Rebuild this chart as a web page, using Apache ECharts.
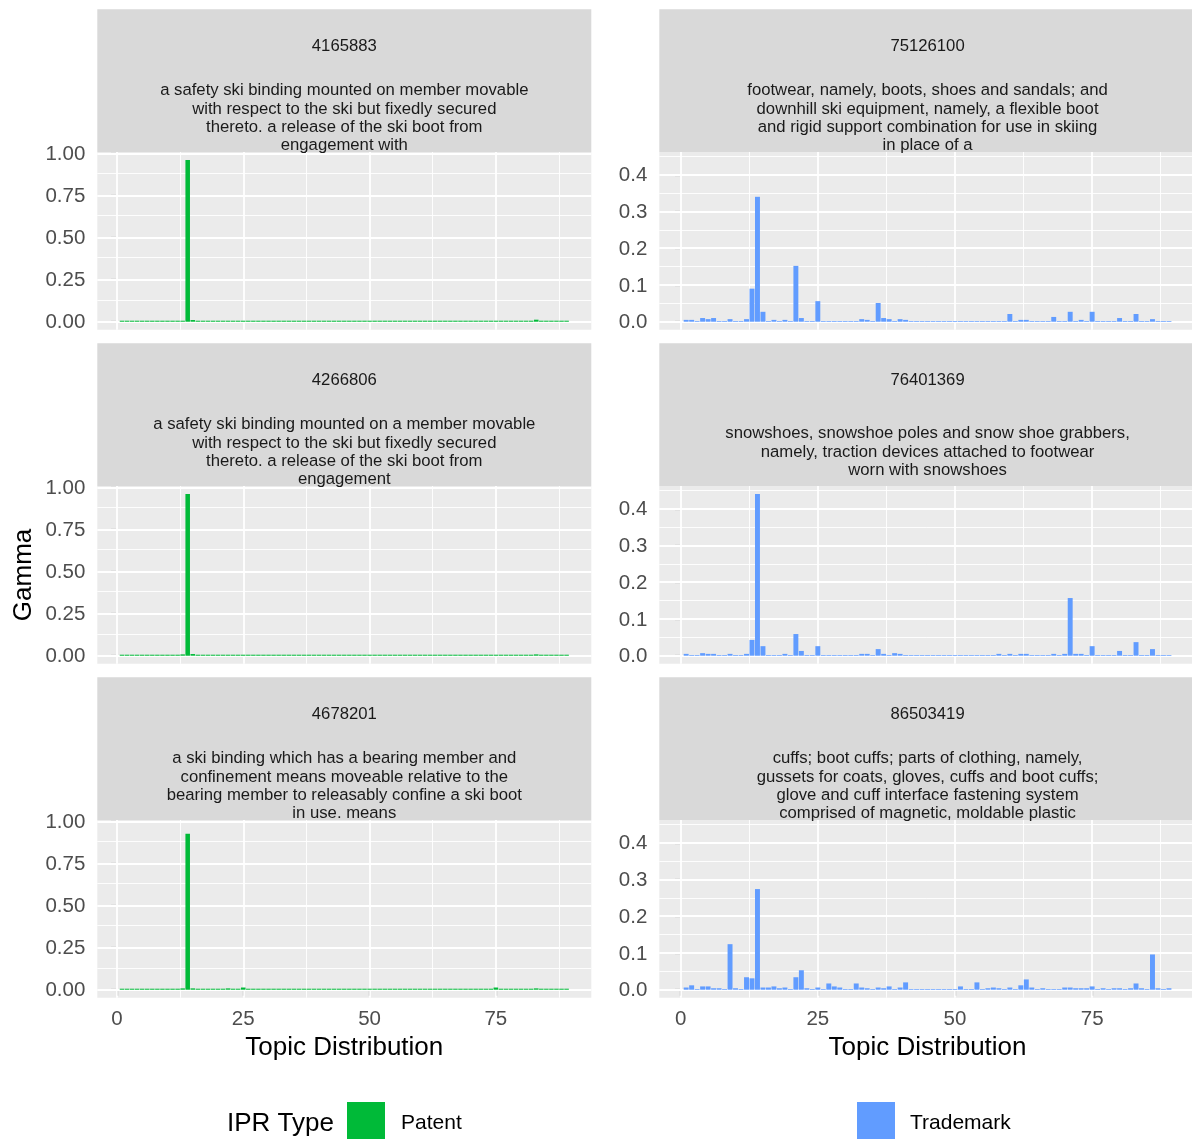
<!DOCTYPE html>
<html><head><meta charset="utf-8">
<script src="https://cdn.jsdelivr.net/npm/echarts@6/dist/echarts.min.js"></script>
<style>html,body{margin:0;padding:0;background:#fff}#chart{width:1192px;height:1139px}</style>
</head><body><div id="chart"></div>
<script>
// ---------------- DATA ----------------
const topics = Array.from({length: 89}, (_, i) => i + 1);
const xTicks = [0, 25, 50, 75];
const patentYTicks = [0, 0.25, 0.5, 0.75, 1.0];
const trademarkYTicks = [0, 0.1, 0.2, 0.3, 0.4];

const patentIds = ['4165883', '4266806', '4678201'];
const trademarkIds = ['75126100', '76401369', '86503419'];
const patentDescs = [
  'a safety ski binding mounted on member movable\nwith respect to the ski but fixedly secured\nthereto. a release of the ski boot from\nengagement with',
  'a safety ski binding mounted on a member movable\nwith respect to the ski but fixedly secured\nthereto. a release of the ski boot from\nengagement',
  'a ski binding which has a bearing member and\nconfinement means moveable relative to the\nbearing member to releasably confine a ski boot\nin use. means'
];
const trademarkDescs = [
  'footwear, namely, boots, shoes and sandals; and\ndownhill ski equipment, namely, a flexible boot\nand rigid support combination for use in skiing\nin place of a',
  'snowshoes, snowshoe poles and snow shoe grabbers,\nnamely, traction devices attached to footwear\nworn with snowshoes',
  'cuffs; boot cuffs; parts of clothing, namely,\ngussets for coats, gloves, cuffs and boot cuffs;\nglove and cuff interface fastening system\ncomprised of magnetic, moldable plastic'
];

const patentGamma1 = [
  0.006,0.006,0.006,0.006,0.006,0.006,0.006,0.006,0.006,0.006,
  0.006,0.006,0.006,0.960,0.010,0.006,0.006,0.006,0.006,0.006,
  0.006,0.006,0.006,0.006,0.006,0.006,0.006,0.006,0.006,0.006,
  0.006,0.006,0.006,0.006,0.006,0.006,0.006,0.006,0.006,0.006,
  0.006,0.006,0.006,0.006,0.006,0.006,0.006,0.006,0.006,0.006,
  0.006,0.006,0.006,0.006,0.006,0.006,0.006,0.006,0.006,0.006,
  0.006,0.006,0.006,0.006,0.006,0.006,0.006,0.006,0.006,0.006,
  0.006,0.006,0.006,0.006,0.006,0.006,0.006,0.006,0.006,0.006,
  0.006,0.006,0.012,0.006,0.006,0.006,0.006,0.006,0.006
];
const patentGamma2 = [
  0.006,0.006,0.006,0.006,0.006,0.006,0.006,0.006,0.006,0.006,
  0.006,0.006,0.008,0.960,0.010,0.006,0.006,0.006,0.006,0.006,
  0.006,0.006,0.006,0.006,0.006,0.006,0.006,0.006,0.006,0.006,
  0.006,0.006,0.006,0.006,0.006,0.006,0.006,0.006,0.006,0.006,
  0.006,0.006,0.006,0.006,0.006,0.006,0.006,0.006,0.006,0.006,
  0.006,0.006,0.006,0.006,0.006,0.006,0.006,0.006,0.006,0.006,
  0.006,0.006,0.006,0.006,0.006,0.006,0.006,0.006,0.006,0.006,
  0.006,0.006,0.006,0.006,0.006,0.006,0.006,0.006,0.006,0.006,
  0.006,0.006,0.008,0.006,0.006,0.006,0.006,0.006,0.006
];
const patentGamma3 = [
  0.006,0.006,0.006,0.006,0.006,0.006,0.006,0.006,0.006,0.006,
  0.006,0.006,0.008,0.927,0.008,0.006,0.006,0.006,0.006,0.006,
  0.006,0.008,0.006,0.006,0.013,0.006,0.006,0.006,0.006,0.006,
  0.006,0.006,0.006,0.006,0.006,0.006,0.006,0.006,0.006,0.006,
  0.006,0.006,0.006,0.006,0.006,0.006,0.006,0.006,0.006,0.006,
  0.006,0.006,0.006,0.006,0.006,0.006,0.006,0.006,0.006,0.006,
  0.006,0.006,0.006,0.006,0.006,0.006,0.006,0.006,0.006,0.006,
  0.006,0.006,0.006,0.006,0.013,0.006,0.006,0.006,0.006,0.006,
  0.006,0.006,0.008,0.006,0.006,0.006,0.006,0.006,0.006
];
const trademarkGamma1 = [
  0.005,0.005,0.002,0.010,0.007,0.010,0.002,0.002,0.007,0.002,
  0.002,0.007,0.090,0.340,0.027,0.002,0.005,0.002,0.005,0.002,
  0.152,0.010,0.002,0.002,0.056,0.002,0.002,0.002,0.002,0.002,
  0.002,0.002,0.007,0.005,0.002,0.051,0.010,0.007,0.002,0.007,
  0.005,0.002,0.002,0.002,0.002,0.002,0.002,0.002,0.002,0.002,
  0.002,0.002,0.002,0.002,0.002,0.002,0.002,0.002,0.002,0.021,
  0.002,0.005,0.005,0.002,0.002,0.002,0.002,0.013,0.002,0.002,
  0.027,0.002,0.005,0.002,0.027,0.002,0.002,0.002,0.002,0.010,
  0.002,0.002,0.021,0.002,0.002,0.007,0.002,0.002,0.002
];
const trademarkGamma2 = [
  0.005,0.002,0.002,0.007,0.005,0.005,0.002,0.002,0.005,0.002,
  0.002,0.005,0.043,0.440,0.026,0.002,0.002,0.002,0.005,0.002,
  0.059,0.013,0.002,0.002,0.026,0.002,0.002,0.002,0.002,0.002,
  0.002,0.002,0.005,0.005,0.002,0.018,0.005,0.002,0.007,0.005,
  0.002,0.002,0.002,0.002,0.002,0.002,0.002,0.002,0.002,0.002,
  0.002,0.002,0.002,0.002,0.002,0.002,0.002,0.005,0.002,0.005,
  0.002,0.005,0.005,0.002,0.002,0.002,0.002,0.005,0.002,0.005,
  0.157,0.005,0.005,0.002,0.026,0.002,0.002,0.002,0.002,0.013,
  0.002,0.002,0.037,0.002,0.002,0.018,0.002,0.002,0.002
];
const trademarkGamma3 = [
  0.006,0.012,0.002,0.009,0.009,0.004,0.004,0.002,0.124,0.004,
  0.002,0.034,0.031,0.274,0.006,0.006,0.009,0.004,0.006,0.002,
  0.034,0.053,0.004,0.002,0.006,0.002,0.017,0.009,0.006,0.002,
  0.002,0.017,0.006,0.004,0.002,0.006,0.004,0.009,0.002,0.006,
  0.020,0.002,0.002,0.002,0.002,0.002,0.002,0.002,0.002,0.002,
  0.009,0.002,0.002,0.020,0.002,0.004,0.006,0.004,0.002,0.006,
  0.002,0.012,0.028,0.006,0.002,0.004,0.002,0.002,0.002,0.006,
  0.006,0.004,0.004,0.004,0.009,0.002,0.004,0.002,0.004,0.004,
  0.002,0.004,0.017,0.004,0.002,0.096,0.004,0.002,0.004
];

// ---------------- LAYOUT / STYLE ----------------
const FONT = '"Liberation Sans", Arial, Helvetica, sans-serif';
const COLORS = {Patent: '#00BA38', Trademark: '#619CFF'};
const cols = [{left: 97.3, width: 494}, {left: 659.3, width: 536.5}];
const rowTop = [152, 486, 820];
const panelH = 177.8;
const stripH = 142.7;
const xRange = [-3.895, 93.895];
const yRanges = [[-0.048, 1.008], [-0.022, 0.462]];
const yTickSets = [patentYTicks, trademarkYTicks];

const panels = [
  {col: 0, row: 0, name: 'Patent', id: patentIds[0], desc: patentDescs[0], values: patentGamma1},
  {col: 0, row: 1, name: 'Patent', id: patentIds[1], desc: patentDescs[1], values: patentGamma2},
  {col: 0, row: 2, name: 'Patent', id: patentIds[2], desc: patentDescs[2], values: patentGamma3},
  {col: 1, row: 0, name: 'Trademark', id: trademarkIds[0], desc: trademarkDescs[0], values: trademarkGamma1},
  {col: 1, row: 1, name: 'Trademark', id: trademarkIds[1], desc: trademarkDescs[1], values: trademarkGamma2},
  {col: 1, row: 2, name: 'Trademark', id: trademarkIds[2], desc: trademarkDescs[2], values: trademarkGamma3}
];

function mids(arr, lo, hi) {
  const out = [];
  const step = arr[1] - arr[0];
  for (let i = -1; i < arr.length; i++) {
    const v = (i < 0 ? arr[0] - step : arr[i]) + step / 2;
    if (v > lo && v < hi) out.push(v);
  }
  return out;
}

const grids = [], xAxes = [], yAxes = [], series = [], graphics = [];
panels.forEach((p, i) => {
  const c = cols[p.col];
  const top = rowTop[p.row];
  const yr = yRanges[p.col];
  const yt = yTickSets[p.col];
  const bottomRow = p.row === 2;
  grids.push({left: c.left, top: top, width: c.width, height: panelH, show: true,
    backgroundColor: '#EBEBEB', borderWidth: 0, containLabel: false, outerBoundsMode: 'none'});
  xAxes.push({
    type: 'value', gridIndex: i, min: xRange[0], max: xRange[1],
    axisLine: {show: false}, splitLine: {show: false},
    axisTick: {show: bottomRow, customValues: xTicks, length: 6, lineStyle: {color: '#333333', width: 1.1}},
    axisLabel: {show: bottomRow, customValues: xTicks, margin: 11.5, fontSize: 20.5, color: '#4D4D4D', fontFamily: FONT},
    name: bottomRow ? 'Topic Distribution' : '', nameLocation: 'middle', nameGap: 37,
    nameTextStyle: {fontSize: 26, color: '#000000', fontFamily: FONT}
  });
  yAxes.push({
    type: 'value', gridIndex: i, min: yr[0], max: yr[1],
    axisLine: {show: false}, splitLine: {show: false},
    axisTick: {show: true, customValues: yt, length: 6, lineStyle: {color: '#333333', width: 1.1}},
    axisLabel: {show: true, customValues: yt, margin: 12,
      formatter: v => '{t|' + v.toFixed(p.col === 0 ? 2 : 1) + '}',
      rich: {t: {fontSize: 20.5, color: '#4D4D4D', fontFamily: FONT, padding: [2, 0, 0, 0]}}},
    name: (p.col === 0 && p.row === 1) ? 'Gamma' : '', nameLocation: 'middle', nameGap: 60,
    nameTextStyle: {fontSize: 26, color: '#000000', fontFamily: FONT}
  });
  const gl = [];
  xTicks.forEach(v => gl.push({xAxis: v, lineStyle: {color: '#FFFFFF', width: 1.8, type: 'solid'}}));
  mids(xTicks, xRange[0], xRange[1]).forEach(v => gl.push({xAxis: v, lineStyle: {color: '#FFFFFF', width: 0.9, type: 'solid'}}));
  yt.forEach(v => gl.push({yAxis: v, lineStyle: {color: '#FFFFFF', width: 1.8, type: 'solid'}}));
  mids(yt, yr[0], yr[1]).forEach(v => gl.push({yAxis: v, lineStyle: {color: '#FFFFFF', width: 0.9, type: 'solid'}}));
  series.push({
    type: 'bar', name: p.name, xAxisIndex: i, yAxisIndex: i,
    data: topics.map((t, k) => [t, p.values[k]]),
    barWidth: c.width / (xRange[1] - xRange[0]) * 0.9,
    itemStyle: {color: COLORS[p.name]},
    z: 2, animation: false, silent: true,
    markLine: {silent: true, z: 1, symbol: ['none', 'none'], label: {show: false}, animation: false,
      emphasis: {disabled: true}, data: gl}
  });
  // facet strip
  graphics.push({type: 'rect', z: 0, shape: {x: c.left, y: top - stripH, width: c.width, height: stripH},
    style: {fill: '#D9D9D9'}, silent: true});
  const cx = c.left + c.width / 2;
  graphics.push({type: 'text', z: 1, x: cx, y: top - stripH + 36.9,
    style: {text: p.id, fill: '#1A1A1A', fontSize: 16.7, fontFamily: FONT, align: 'center', verticalAlign: 'middle'}, silent: true});
  graphics.push({type: 'text', z: 1, x: cx, y: top - stripH + 108.9,
    style: {text: p.desc, fill: '#1A1A1A', fontSize: 16.7, fontFamily: FONT, lineHeight: 18.4, align: 'center', verticalAlign: 'middle'}, silent: true});
});

graphics.push({type: 'text', x: 227, y: 1124,
  style: {text: 'IPR Type', fill: '#000000', fontSize: 26, fontFamily: FONT, align: 'left', verticalAlign: 'middle'}, silent: true});

const legendBase = {top: 1102, padding: 0, itemWidth: 38, itemHeight: 38, icon: 'rect', selectedMode: false,
  formatter: name => '{t|' + name + '}'};
const option = {
  animation: false,
  textStyle: {fontFamily: FONT},
  grid: grids, xAxis: xAxes, yAxis: yAxes, series: series,
  legend: [
    Object.assign({}, legendBase, {data: ['Patent'], left: 347,
      textStyle: {rich: {t: {fontSize: 21, color: '#000000', fontFamily: FONT, padding: [5, 0, 0, 11]}}}}),
    Object.assign({}, legendBase, {data: ['Trademark'], left: 857,
      textStyle: {rich: {t: {fontSize: 21, color: '#000000', fontFamily: FONT, padding: [5, 0, 0, 10]}}}})
  ],
  graphic: {elements: graphics}
};
const chart = echarts.init(document.getElementById('chart'), null, {renderer: 'canvas'});
chart.setOption(option);
</script></body></html>
